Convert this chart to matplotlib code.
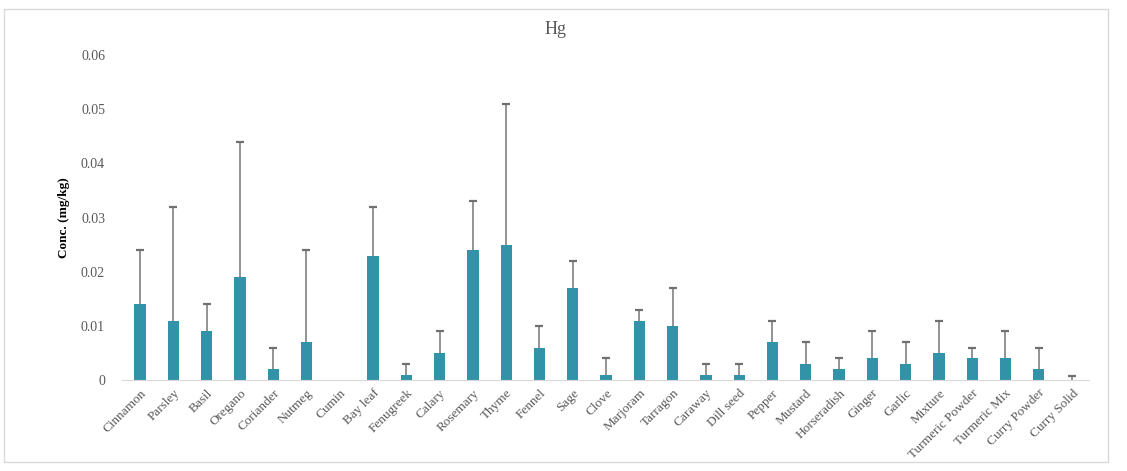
import matplotlib.pyplot as plt
import numpy as np
from matplotlib.patches import Rectangle

# ==[0] Data
spices = ['Cinnamon', 'Parsley', 'Basil', 'Oregano', 'Coriander', 'Nutmeg', 'Cumin',
          'Bay leaf', 'Fenugreek', 'Calary', 'Rosemary', 'Thyme', 'Fennel', 'Sage',
          'Clove', 'Marjoram', 'Tarragon', 'Caraway', 'Dill seed', 'Pepper', 'Mustard',
          'Horseradish', 'Ginger', 'Garlic', 'Mixture', 'Turmeric Powder', 'Turmeric Mix',
          'Curry Powder', 'Curry Solid']
hg_mean = [0.014, 0.011, 0.009, 0.019, 0.002, 0.007, 0.0, 0.023, 0.001, 0.005,
           0.024, 0.025, 0.006, 0.017, 0.001, 0.011, 0.010, 0.001, 0.001, 0.007,
           0.003, 0.002, 0.004, 0.003, 0.005, 0.004, 0.004, 0.002, 0.0]
hg_sd = [0.010, 0.021, 0.005, 0.025, 0.004, 0.017, 0.0, 0.009, 0.002, 0.004,
         0.009, 0.026, 0.004, 0.005, 0.003, 0.002, 0.007, 0.002, 0.002, 0.004,
         0.004, 0.002, 0.005, 0.004, 0.006, 0.002, 0.005, 0.004, 0.0007]

plt.rcParams['font.family'] = ['Liberation Serif', 'DejaVu Serif']

# ==[1] Figure and axes
fig = plt.figure(figsize=(11.27, 4.71), dpi=100)
ax = fig.add_axes([0.108, 0.193, 0.858, 0.690])

x = np.arange(len(spices))
mean = np.array(hg_mean)
sd = np.array(hg_sd)
ax.bar(x, mean, width=0.34, color='#3192A8', zorder=2)

# ==[2] Upper-only error bars (Excel style), skip the ones with no error
has_err = sd > 0
ax.vlines(x[has_err], mean[has_err], mean[has_err] + sd[has_err],
          color='#8a8a8a', linewidth=1.3, zorder=3)
ax.plot(x[has_err], mean[has_err] + sd[has_err], linestyle='none', marker='_',
        markersize=6, markeredgewidth=1.6, color='#707070', zorder=3)

ax.set_xlim(-0.55, len(spices) - 0.5)
ax.set_ylim(0, 0.06)
ax.set_yticks([0, 0.01, 0.02, 0.03, 0.04, 0.05, 0.06])
ax.set_yticklabels(['0', '0.01', '0.02', '0.03', '0.04', '0.05', '0.06'])

ax.set_xticks(x)
ax.set_xticklabels(spices, rotation=45, ha='right', rotation_mode='anchor',
                   fontsize=9.5, color='#595959')
ax.tick_params(axis='y', labelsize=10, labelcolor='#595959', length=0, pad=12)
ax.tick_params(axis='x', length=0, pad=5)

for s in ['top', 'right', 'left']:
    ax.spines[s].set_visible(False)
ax.spines['bottom'].set_color('#d9d9d9')

ax.set_ylabel('Conc. (mg/kg)', fontsize=9.5, fontweight='bold', labelpad=8)
fig.text(0.493, 1 - 30 / 471, 'Hg', fontsize=13, color='#595959',
         ha='center', va='center')

# chart frame
fig.patches.append(Rectangle((4 / 1127, 1 - 462 / 471), 1104 / 1127, 453 / 471,
                             transform=fig.transFigure, fill=False,
                             edgecolor='#d9d9d9', linewidth=1))

fig.savefig('out.png', dpi=100)
